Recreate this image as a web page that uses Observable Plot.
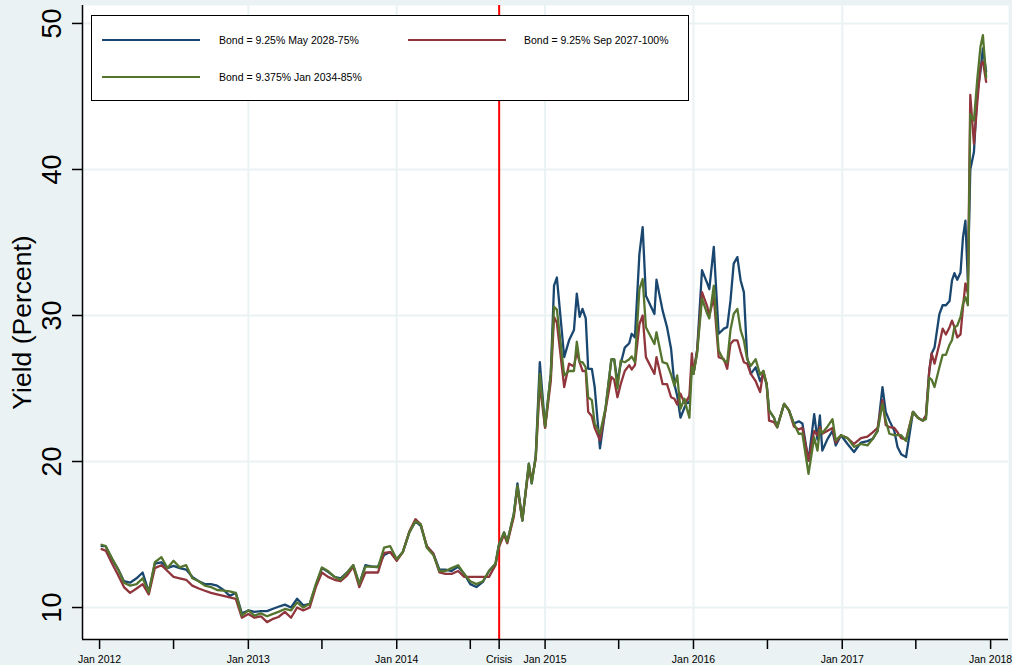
<!DOCTYPE html>
<html>
<head>
<meta charset="utf-8">
<script src="https://cdn.jsdelivr.net/npm/d3@7"></script>
<script src="https://cdn.jsdelivr.net/npm/@observablehq/plot@0.6"></script>
<style>
  html, body { margin: 0; padding: 0; background: #EAF2F3; }
  #wrap { position: relative; width: 1012px; height: 665px; overflow: hidden; }
  #legend { position: absolute; left: 91px; top: 15px; width: 596px; height: 84px; background: #fff; border: 1px solid #000;
            font-family: "Liberation Sans", Arial, sans-serif; font-size: 10.5px; color: #000; }
  #legend .sw { position: absolute; height: 2px; }
  #legend .lb { position: absolute; line-height: 12px; white-space: nowrap; }
</style>
</head>
<body>
<div id="wrap"><div id="legend"></div></div>
<script>
// ---- data ----
const seriesNames = ["Bond = 9.25% May 2028-75%", "Bond = 9.25% Sep 2027-100%", "Bond = 9.375% Jan 2034-85%"];
const seriesColors = ["#1A476F", "#90353B", "#55752F"];

const dates = [
"2012-01-06","2012-01-16","2012-02-01","2012-02-16","2012-03-01","2012-03-16","2012-04-01","2012-04-16","2012-05-01","2012-05-16",
"2012-06-01","2012-06-16","2012-07-01","2012-07-16","2012-08-01","2012-08-16","2012-09-01","2012-09-16","2012-10-01","2012-10-16",
"2012-11-01","2012-11-16","2012-12-01","2012-12-16","2013-01-01","2013-01-16","2013-02-01","2013-02-16","2013-03-01","2013-03-16",
"2013-04-01","2013-04-16","2013-05-01","2013-05-16","2013-06-01","2013-06-16","2013-07-01","2013-07-16","2013-08-01","2013-08-16",
"2013-09-01","2013-09-16","2013-10-01","2013-10-16","2013-11-01","2013-11-16","2013-12-01","2013-12-16","2014-01-01","2014-01-16",
"2014-02-01","2014-02-16","2014-03-01","2014-03-16","2014-04-01","2014-04-16","2014-05-01","2014-05-16","2014-06-01","2014-06-16",
"2014-07-01","2014-07-16","2014-08-01","2014-08-16","2014-09-01","2014-09-09","2014-09-22","2014-09-30","2014-10-16","2014-10-25",
"2014-11-06","2014-11-22","2014-11-29","2014-12-09","2014-12-19","2015-01-01","2015-01-15","2015-01-23","2015-01-30","2015-02-17",
"2015-03-01","2015-03-13","2015-03-20","2015-03-27","2015-04-03","2015-04-11","2015-04-17","2015-04-26","2015-05-03","2015-05-16",
"2015-05-30","2015-06-13","2015-06-20","2015-06-28","2015-07-06","2015-07-16","2015-07-27","2015-08-02","2015-08-10","2015-08-21",
"2015-08-29","2015-09-06","2015-09-27","2015-10-02","2015-10-17","2015-10-28","2015-11-07","2015-11-15","2015-11-22","2015-11-30",
"2015-12-10","2015-12-16","2015-12-22","2015-12-28","2016-01-01","2016-01-10","2016-01-22","2016-02-04","2016-02-09","2016-02-20",
"2016-03-03","2016-03-16","2016-03-24","2016-04-01","2016-04-09","2016-04-18","2016-04-26","2016-05-04","2016-05-12","2016-05-21",
"2016-06-02","2016-06-13","2016-06-21","2016-06-29","2016-07-05","2016-07-17","2016-07-25","2016-08-11","2016-08-23","2016-09-04",
"2016-09-16","2016-09-25","2016-10-10","2016-10-24","2016-11-01","2016-11-07","2016-11-13","2016-11-26","2016-12-08","2016-12-16",
"2016-12-29","2017-01-14","2017-01-30","2017-02-16","2017-03-04","2017-03-17","2017-03-29","2017-04-10","2017-04-18","2017-04-27",
"2017-05-09","2017-05-17","2017-05-26","2017-06-07","2017-06-24","2017-07-06","2017-07-18","2017-07-26","2017-08-03","2017-08-09",
"2017-08-16","2017-08-28","2017-09-05","2017-09-13","2017-09-22","2017-09-28","2017-10-04","2017-10-11","2017-10-19","2017-10-25",
"2017-10-31","2017-11-06","2017-11-12","2017-11-21","2017-11-29","2017-12-07","2017-12-13","2017-12-21"
];

const bondMay2028 = [
14.2,14.2,13.3,12.6,11.8,11.7,12.0,12.4,11.05,13.0,
13.1,12.7,12.85,12.7,12.6,12.1,11.8,11.6,11.6,11.5,
11.2,10.8,11.0,9.6,9.8,9.7,9.75,9.75,9.9,10.05,
10.2,10.0,10.6,10.15,10.25,11.5,12.7,12.45,12.1,12.0,
12.4,12.9,11.6,12.9,12.8,12.8,13.6,13.8,13.3,13.8,
15.15,15.9,15.6,14.2,13.7,12.6,12.6,12.5,12.8,12.3,
11.6,11.4,11.75,12.5,13.0,14.25,15.15,14.5,16.4,18.5,
15.95,19.85,18.5,20.4,26.8,22.35,26.0,32.05,32.6,27.15,
28.3,29.0,31.5,29.9,30.45,29.8,26.35,26.35,25.1,20.9,
23.7,27.0,27.0,25.45,26.7,27.8,28.1,28.75,28.5,34.2,
36.05,31.35,30.1,32.45,30.35,29.2,27.7,25.3,24.5,23.0,
23.7,24.05,24.0,26.7,26.0,27.6,33.1,32.2,31.8,34.7,
28.75,29.1,29.2,31.0,33.55,34.0,32.4,31.6,27.15,26.0,
26.45,25.5,26.0,25.3,23.5,23.0,22.35,23.95,23.5,22.6,
22.75,22.6,20.05,23.25,21.5,23.15,20.75,21.55,22.1,21.1,
21.8,21.2,20.65,21.3,21.4,21.55,22.1,25.1,23.4,22.8,
22.1,21.0,20.5,20.3,23.4,23.0,22.8,23.15,26.2,27.4,
27.8,30.1,30.7,30.7,31.0,32.4,32.9,32.45,32.95,35.35,
36.5,32.4,40.0,41.2,45.2,46.7,48.3,46.7
];

const bondSep2027 = [
14.0,13.9,13.0,12.2,11.4,11.0,11.3,11.6,10.9,12.7,
12.9,12.5,12.1,12.0,11.9,11.5,11.3,11.15,11.0,10.9,
10.8,10.7,10.6,9.3,9.55,9.3,9.4,9.0,9.2,9.35,
9.7,9.3,10.0,9.8,10.0,11.4,12.4,12.1,11.9,11.8,
12.2,12.8,11.4,12.4,12.4,12.4,13.75,13.8,13.2,13.8,
15.2,16.05,15.7,14.2,13.7,12.4,12.3,12.3,12.5,12.1,
12.1,12.1,12.1,12.1,12.9,14.1,15.0,14.4,16.2,18.2,
16.0,19.6,18.7,20.2,25.3,22.3,25.5,29.9,29.5,25.1,
26.7,26.5,27.5,26.8,26.2,26.2,23.4,23.1,22.3,21.45,
23.6,25.8,25.6,24.4,25.3,26.2,26.6,26.3,26.6,29.4,
30.0,27.15,26.0,27.15,25.3,25.3,24.4,24.3,23.9,24.65,
24.0,24.2,24.5,27.4,26.0,27.6,31.6,30.6,30.0,31.25,
27.15,27.0,26.35,28.05,28.3,28.3,27.5,26.8,26.7,26.0,
25.5,24.75,26.2,25.3,22.8,22.7,22.35,23.95,23.5,22.4,
22.2,22.3,20.05,22.1,21.8,22.35,21.9,22.1,22.3,21.3,
21.8,21.6,21.2,21.6,21.7,22.0,22.3,24.2,22.5,22.35,
22.3,22.0,21.6,21.5,23.4,23.0,22.8,23.15,26.2,27.4,
26.7,28.05,29.1,28.7,29.2,29.65,29.2,28.5,28.7,30.55,
32.2,31.5,45.1,41.75,44.5,47.1,47.4,46.0
];

const bondJan2034 = [
14.3,14.2,13.35,12.6,11.7,11.5,11.6,12.0,11.05,13.1,
13.45,12.7,13.2,12.75,12.9,12.0,11.8,11.5,11.4,11.2,
11.15,11.1,11.0,9.45,9.8,9.45,9.6,9.4,9.55,9.7,
9.9,9.8,10.35,10.0,10.25,11.6,12.75,12.5,12.1,11.9,
12.4,12.9,11.6,12.8,12.8,12.75,14.1,14.2,13.3,13.8,
15.15,15.9,15.7,14.1,13.6,12.5,12.5,12.7,12.9,12.3,
11.8,11.6,11.8,12.5,13.0,14.25,15.15,14.5,16.4,18.35,
15.95,19.85,18.5,20.3,26.0,22.4,26.0,30.6,30.4,25.9,
26.2,26.2,28.2,26.8,26.8,26.45,24.4,24.2,22.6,21.9,
23.7,27.0,27.0,25.0,26.9,26.8,27.0,27.2,26.8,31.8,
32.5,29.2,28.05,28.85,26.8,26.7,25.95,25.2,25.9,23.6,
24.3,23.6,23.0,26.5,26.0,27.4,31.15,30.1,29.8,32.05,
27.6,26.9,26.8,29.0,30.1,30.45,29.0,28.3,27.0,26.55,
27.0,25.95,26.2,25.3,23.5,23.0,22.35,23.95,23.5,22.6,
21.9,21.9,19.15,21.65,20.75,22.2,21.95,22.4,22.9,21.45,
21.8,21.6,21.0,21.2,21.1,21.55,22.1,23.95,22.8,21.9,
21.8,21.8,21.8,21.4,23.4,23.0,22.8,22.9,25.75,25.6,
25.1,26.45,27.3,27.3,28.0,28.3,29.2,29.3,29.9,30.8,
31.25,30.7,43.8,43.35,46.1,48.4,49.2,46.3
];

const yTicks = [10, 20, 30, 40, 50];
const xTickDates = ["2012-01-01","2012-07-01","2013-01-01","2013-07-01","2014-01-01","2014-07-01","2014-09-10",
                    "2015-01-01","2015-07-01","2016-01-01","2016-07-01","2017-01-01","2017-07-01","2018-01-01"];
const xTickLabels = ["Jan 2012","","Jan 2013","","Jan 2014","","Crisis",
                     "Jan 2015","","Jan 2016","","Jan 2017","","Jan 2018"];
const xGridDates = ["2013-01-01","2014-01-01","2015-01-01","2016-01-01","2017-01-01"];
const crisisDate = "2014-09-10";
const yTitle = "Yield (Percent)";

// ---- build ----
const parse = d3.utcParse("%Y-%m-%d");
const series = [bondMay2028, bondSep2027, bondJan2034];
const rows = series.map(vals => dates.map((d, i) => ({date: parse(d), value: vals[i]})));
const tickDates = xTickDates.map(parse);
const labelMap = new Map(tickDates.map((d, i) => [+d, xTickLabels[i]]));
const xDomain = [parse("2011-11-20"), parse("2018-02-14")];
const yDomain = [7.81, 51.23];
const font = "'Liberation Sans', Arial, Helvetica, sans-serif";

const chart = Plot.plot({
  width: 1012, height: 665,
  marginLeft: 82, marginRight: 4, marginTop: 5, marginBottom: 26,
  style: {background: "#EAF2F3", fontFamily: font, color: "#000", overflow: "visible"},
  x: {type: "utc", domain: xDomain},
  y: {domain: yDomain},
  marks: [
    Plot.frame({fill: "white", stroke: "none"}),
    Plot.gridY(yTicks, {stroke: "#EAF2F3", strokeOpacity: 1, strokeWidth: 2}),
    Plot.gridX(xGridDates.map(parse), {stroke: "#EAF2F3", strokeOpacity: 1, strokeWidth: 2}),
    Plot.ruleX([parse(crisisDate)], {stroke: "#FF0000", strokeWidth: 2}),
    ...rows.map((r, i) => Plot.line(r, {x: "date", y: "value", stroke: seriesColors[i], strokeWidth: 2.3, strokeLinejoin: "round"})),
    Plot.ruleY([yDomain[0]], {stroke: "#000", strokeWidth: 1.5}),
    Plot.ruleX([xDomain[0]], {stroke: "#000", strokeWidth: 1.5}),
    Plot.axisX(tickDates, {tickFormat: d => labelMap.get(+d) ?? "", tickSize: 10, tickPadding: 6, fontSize: 10.5, label: null, strokeWidth: 1.5}),
    Plot.axisY(yTicks, {tickSize: 10, tickFormat: () => "", label: null, strokeWidth: 1.5}),
    Plot.text(yTicks, {y: d => d, text: d => String(d), frameAnchor: "left", dx: -22, rotate: -90,
                       textAnchor: "middle", lineAnchor: "bottom", fontSize: 27, fill: "#000"}),
    Plot.text([yTitle], {frameAnchor: "left", dx: -52, rotate: -90, textAnchor: "middle", lineAnchor: "bottom",
                         fontSize: 26.5, fill: "#000"})
  ]
});
document.getElementById("wrap").prepend(chart);

// ---- legend (inside plot, top-left) ----
const legend = document.getElementById("legend");
const legendPos = [{lx: 10, ly: 24, tx: 127}, {lx: 316, ly: 24, tx: 432}, {lx: 10, ly: 61, tx: 127}];
seriesNames.forEach((name, i) => {
  const p = legendPos[i];
  const sw = document.createElement("div");
  sw.className = "sw";
  sw.style.cssText = `left:${p.lx}px;top:${p.ly - 1}px;width:98px;background:${seriesColors[i]}`;
  const lb = document.createElement("div");
  lb.className = "lb";
  lb.style.cssText = `left:${p.tx}px;top:${p.ly - 6}px`;
  lb.textContent = name;
  legend.append(sw, lb);
});
</script>
</body>
</html>
